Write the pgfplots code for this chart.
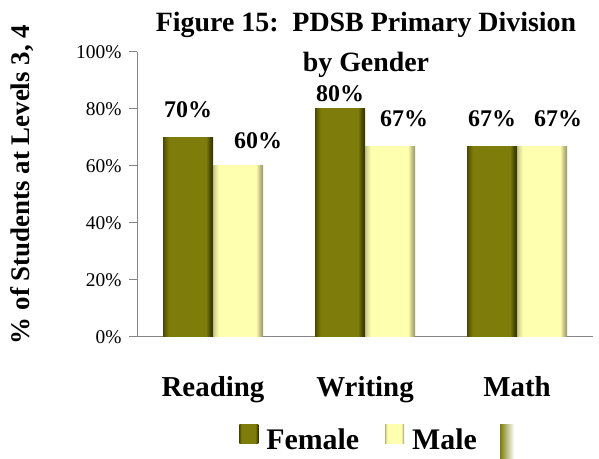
\documentclass[border=0pt]{standalone}
\usepackage{fontspec}
\setmainfont{Liberation Serif}
\usepackage{pgfplots}
\pgfplotsset{compat=1.18}

\definecolor{fdark}{HTML}{4A4900}
\definecolor{fmain}{HTML}{7E7D0C}
\definecolor{mdark}{HTML}{BDBD80}
\definecolor{mmain}{HTML}{FFFFB0}
\definecolor{axisgrey}{HTML}{868686}

% bevelled bar look: darker strips at both sides
\pgfdeclarehorizontalshading{femaleshade}{100bp}{color(0bp)=(fdark); color(25bp)=(fdark); color(27bp)=(fdark!60!fmain); color(31bp)=(fmain); color(68bp)=(fmain); color(72bp)=(fdark); color(75bp)=(fdark!70!black); color(100bp)=(fdark)}
\pgfdeclarehorizontalshading{maleshade}{100bp}{color(0bp)=(mdark); color(25bp)=(mdark); color(27bp)=(mdark!50!mmain); color(31bp)=(mmain); color(68bp)=(mmain); color(72bp)=(mdark); color(75bp)=(mdark!80!black); color(100bp)=(mdark)}

\begin{document}
\begin{tikzpicture}
\path[use as bounding box] (0,0) rectangle (599bp,459bp);

\node[font=\fontsize{28}{40}\selectfont\bfseries, align=center] at (366bp,414bp)
  {Figure 15:\ \ PDSB Primary Division\\by Gender};

\begin{axis}[
    at={(137bp,122bp)}, anchor=south west,
    scale only axis, width=456bp, height=285bp,
    ymin=0, ymax=100, ytick={0,20,...,100},
    xmin=-0.5, xmax=2.5,
    xtick={0,1,2}, xticklabels={Reading,Writing,Math},
    major x tick style={draw=none},
    extra x ticks={-0.5,0.5,1.5,2.5}, extra x tick labels={},
    extra x tick style={major tick style={draw=axisgrey}},
    axis lines*=left,
    axis line style={axisgrey, line width=1bp},
    tick style={axisgrey, line width=1bp},
    tick align=outside, major tick length=8bp,
    /pgf/number format/assume math mode=true,
    yticklabel={\pgfmathprintnumber{\tick}\%},
    yticklabel style={font=\fontsize{19.5}{22}\selectfont, xshift=-4bp},
    xticklabel style={font=\fontsize{29}{32}\selectfont\bfseries, yshift=-28bp},
    ylabel={\% of Students at Levels 3, 4},
    ylabel style={font=\fontsize{27}{30}\selectfont\bfseries, at={(rel axis cs:-0.252,0.535)}, anchor=center},
    bar width=50bp,
    nodes near coords={\pgfmathprintnumber{\pgfplotspointmeta}\%},
    every node near coord/.append style={font=\fontsize{24}{26}\selectfont\bfseries, text=black},
    legend image code/.code={\path[#1, draw=none] (0bp,-4bp) rectangle (19bp,15bp);},
    legend style={at={(0.487,-0.358)}, anchor=center, draw=none, fill=none,
      legend columns=-1, font=\fontsize{30}{32}\selectfont\bfseries,
      /tikz/every odd column/.append style={column sep=6bp},
      /tikz/every even column/.append style={column sep=24bp}},
    female/.style={ybar, bar shift=-25bp, shading=femaleshade, draw=none},
    male/.style={ybar, bar shift=25bp, shading=maleshade, draw=none},
]
% one plot per bar so that every bar gets its own shading
\addplot[female, nodes near coords style={yshift=16bp, xshift=-25bp}] coordinates {(0,70)};
\addlegendentry{Female}
\addplot[male, nodes near coords style={yshift=14bp, xshift=45bp}] coordinates {(0,60)};
\addlegendentry{Male}
\addplot[female, forget plot, nodes near coords style={yshift=4bp, xshift=-25bp}] coordinates {(1,80)};
\addplot[male, forget plot, nodes near coords style={yshift=16bp, xshift=39bp}] coordinates {(1,67)};
\addplot[female, forget plot, nodes near coords style={yshift=16bp, xshift=-25bp}] coordinates {(2,67)};
\addplot[male, forget plot, nodes near coords style={yshift=16bp, xshift=41bp}] coordinates {(2,67)};
\end{axis}

\shade[left color=fmain, right color=white] (500bp,0bp) rectangle (514bp,34bp);
\end{tikzpicture}
\end{document}
